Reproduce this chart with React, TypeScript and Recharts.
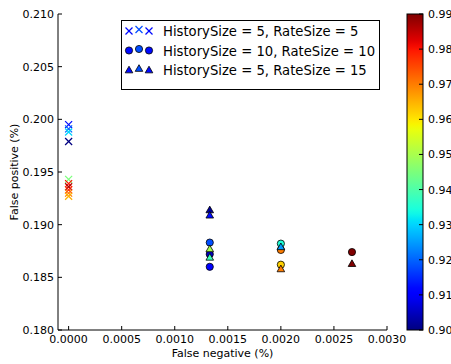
import React from 'react';
import { ScatterChart, Scatter, XAxis, YAxis } from 'recharts';

const xTicks = [0, 0.0005, 0.001, 0.0015, 0.002, 0.0025, 0.003];
const yTicks = [0.18, 0.185, 0.19, 0.195, 0.2, 0.205, 0.21];
const cbTicks = [0.9, 0.91, 0.92, 0.93, 0.94, 0.95, 0.96, 0.97, 0.98, 0.99];
const seriesNames = [
  'HistorySize = 5, RateSize = 5',
  'HistorySize = 10, RateSize = 10',
  'HistorySize = 5, RateSize = 15',
];

// Series 1: crosses
const s1FN = [0, 0, 0, 0, 0, 0, 0, 0, 0, 0];
const s1FP = [0.1995, 0.1991, 0.1988, 0.1979, 0.1943, 0.1939, 0.1936, 0.1933, 0.193, 0.1927];
const s1Score = [0.912, 0.92, 0.93, 0.9, 0.945, 0.98, 0.986, 0.978, 0.97, 0.965];

// Series 2: circles
const s2FN = [0.00133, 0.00133, 0.00133, 0.002, 0.002, 0.002, 0.00267];
const s2FP = [0.1883, 0.1872, 0.186, 0.1882, 0.1876, 0.1862, 0.1874];
const s2Score = [0.918, 0.905, 0.91, 0.935, 0.97, 0.962, 0.99];

// Series 3: triangles
const s3FN = [0.00133, 0.00133, 0.00133, 0.00133, 0.002, 0.002, 0.00267];
const s3FP = [0.1914, 0.1909, 0.1877, 0.1869, 0.1879, 0.1858, 0.1863];
const s3Score = [0.902, 0.912, 0.95, 0.938, 0.925, 0.97, 0.99];

const vmin = 0.9;
const vmax = 0.99;

const FONT = 'DejaVu Sans';

const jetR: [number, number][] = [[0, 0], [0.35, 0], [0.66, 1], [0.89, 1], [1, 0.5]];
const jetG: [number, number][] = [[0, 0], [0.125, 0], [0.375, 1], [0.64, 1], [0.91, 0], [1, 0]];
const jetB: [number, number][] = [[0, 0.5], [0.11, 1], [0.34, 1], [0.65, 0], [1, 0]];

function interp(pts: [number, number][], t: number) {
  for (let i = 0; i < pts.length - 1; i++) {
    const [x0, y0] = pts[i];
    const [x1, y1] = pts[i + 1];
    if (t >= x0 && t <= x1) {
      return y0 + ((t - x0) / (x1 - x0)) * (y1 - y0);
    }
  }
  return pts[pts.length - 1][1];
}

function jetT(t: number) {
  const tt = Math.min(1, Math.max(0, t));
  const r = Math.round(interp(jetR, tt) * 255);
  const g = Math.round(interp(jetG, tt) * 255);
  const b = Math.round(interp(jetB, tt) * 255);
  return `rgb(${r},${g},${b})`;
}

function jet(v: number) {
  return jetT((v - vmin) / (vmax - vmin));
}

function build(fn: number[], fp: number[], sc: number[]) {
  return fn.map((x, i) => ({ x, y: fp[i], c: sc[i] }));
}

const data1 = build(s1FN, s1FP, s1Score);
const data2 = build(s2FN, s2FP, s2Score);
const data3 = build(s3FN, s3FP, s3Score);

const CrossShape = (props: any) => {
  const { cx, cy, payload } = props;
  const col = jet(payload.c);
  const r = 3.5;
  return (
    <g>
      <line x1={cx - r} y1={cy - r} x2={cx + r} y2={cy + r} stroke={col} strokeWidth={1.2} />
      <line x1={cx - r} y1={cy + r} x2={cx + r} y2={cy - r} stroke={col} strokeWidth={1.2} />
    </g>
  );
};

const CircleShape = (props: any) => {
  const { cx, cy, payload } = props;
  return <circle cx={cx} cy={cy} r={3.6} fill={jet(payload.c)} stroke="#000" strokeWidth={0.8} />;
};

const TriShape = (props: any) => {
  const { cx, cy, payload } = props;
  const r = 3.8;
  const pts = `${cx},${cy - r} ${cx - r},${cy + r * 0.75} ${cx + r},${cy + r * 0.75}`;
  return <polygon points={pts} fill={jet(payload.c)} stroke="#000" strokeWidth={0.8} />;
};

const BottomTick = (props: any) => {
  const { x, y, payload } = props;
  return (
    <g>
      <line x1={x} y1={y} x2={x} y2={y - 4} stroke="#000" strokeWidth={1} />
      <text x={x} y={y + 13} textAnchor="middle" fontSize={11} fontFamily={FONT} fill="#000">
        {Number(payload.value).toFixed(4)}
      </text>
    </g>
  );
};

const TopTick = (props: any) => {
  const { x, y } = props;
  return <line x1={x} y1={y} x2={x} y2={y + 4} stroke="#000" strokeWidth={1} />;
};

const LeftTick = (props: any) => {
  const { x, y, payload } = props;
  return (
    <g>
      <line x1={x} y1={y} x2={x + 4} y2={y} stroke="#000" strokeWidth={1} />
      <text x={x - 4} y={y + 4} textAnchor="end" fontSize={11} fontFamily={FONT} fill="#000">
        {Number(payload.value).toFixed(3)}
      </text>
    </g>
  );
};

const RightTick = (props: any) => {
  const { x, y } = props;
  return <line x1={x} y1={y} x2={x - 4} y2={y} stroke="#000" strokeWidth={1} />;
};

const PL = 58;
const PR = 387;
const PT = 14;
const PB = 330;

const legendColors = [0.912, 0.918, 0.912];

function LegendMarker({ kind, x, y, c }: { kind: number; x: number; y: number; c: number }) {
  const col = jet(c);
  if (kind === 0) {
    const r = 3.5;
    return (
      <g>
        <line x1={x - r} y1={y - r} x2={x + r} y2={y + r} stroke={col} strokeWidth={1.2} />
        <line x1={x - r} y1={y + r} x2={x + r} y2={y - r} stroke={col} strokeWidth={1.2} />
      </g>
    );
  }
  if (kind === 1) return <circle cx={x} cy={y} r={3.6} fill={col} stroke="#000" strokeWidth={0.8} />;
  const r = 3.8;
  return (
    <polygon
      points={`${x},${y - r} ${x - r},${y + r * 0.75} ${x + r},${y + r * 0.75}`}
      fill={col}
      stroke="#000"
      strokeWidth={0.8}
    />
  );
}

export default function App() {
  const cbX = 407;
  const cbW = 16;
  const cbTop = PT;
  const cbBot = PB;
  const stops = Array.from({ length: 61 }, (_, i) => i / 60);
  const legendRowsY = [31, 50.5, 70];
  const markerX = [129, 139, 149];
  const markerDy = [0, -1.5, 0];

  return (
    <div style={{ position: 'absolute', left: 0, top: 0, width: 451, height: 364, background: '#fff' }}>
      <ScatterChart width={451} height={364} margin={{ top: PT, right: 451 - PR, bottom: 0, left: 0 }}>
        <XAxis
          xAxisId="b"
          type="number"
          dataKey="x"
          orientation="bottom"
          domain={[-0.0001, 0.003]}
          ticks={xTicks}
          interval={0}
          allowDataOverflow
          height={364 - PB}
          tickSize={0}
          tickMargin={0}
          tickLine={false}
          axisLine={{ stroke: '#000', strokeWidth: 1 }}
          tick={<BottomTick />}
          label={{
            value: 'False negative (%)',
            position: 'insideBottom',
            offset: 7,
            style: { fontSize: 11, fontFamily: FONT, fill: '#000' },
          }}
        />
        <XAxis
          xAxisId="t"
          type="number"
          dataKey="x"
          orientation="top"
          domain={[-0.0001, 0.003]}
          ticks={xTicks}
          interval={0}
          allowDataOverflow
          height={0}
          tickSize={0}
          tickMargin={0}
          tickLine={false}
          axisLine={{ stroke: '#000', strokeWidth: 1 }}
          tick={<TopTick />}
        />
        <YAxis
          yAxisId="l"
          type="number"
          dataKey="y"
          orientation="left"
          domain={[0.18, 0.21]}
          ticks={yTicks}
          interval={0}
          allowDataOverflow
          width={PL}
          tickSize={0}
          tickMargin={0}
          tickLine={false}
          axisLine={{ stroke: '#000', strokeWidth: 1 }}
          tick={<LeftTick />}
          label={{
            value: 'False positive (%)',
            angle: -90,
            position: 'insideLeft',
            offset: 14,
            style: { fontSize: 11, fontFamily: FONT, fill: '#000', textAnchor: 'middle' },
          }}
        />
        <YAxis
          yAxisId="r"
          type="number"
          dataKey="y"
          orientation="right"
          domain={[0.18, 0.21]}
          ticks={yTicks}
          interval={0}
          allowDataOverflow
          width={0}
          tickSize={0}
          tickMargin={0}
          tickLine={false}
          axisLine={{ stroke: '#000', strokeWidth: 1 }}
          tick={<RightTick />}
        />
        <Scatter name={seriesNames[0]} data={data1} xAxisId="b" yAxisId="l" shape={<CrossShape />} isAnimationActive={false} />
        <Scatter name={seriesNames[1]} data={data2} xAxisId="b" yAxisId="l" shape={<CircleShape />} isAnimationActive={false} />
        <Scatter name={seriesNames[2]} data={data3} xAxisId="b" yAxisId="l" shape={<TriShape />} isAnimationActive={false} />
      </ScatterChart>
      <svg
        width={451}
        height={364}
        style={{ position: 'absolute', left: 0, top: 0, pointerEvents: 'none' }}
      >
        <defs>
          <linearGradient id="jetgrad" x1="0" y1="1" x2="0" y2="0">
            {stops.map((t) => (
              <stop key={t} offset={t} stopColor={jetT(t)} />
            ))}
          </linearGradient>
        </defs>
        {/* Legend */}
        <rect x={121.5} y={20.5} width={258} height={69} fill="#fff" stroke="#000" strokeWidth={1} />
        {seriesNames.map((name, i) => (
          <g key={name}>
            {markerX.map((mx, j) => (
              <LegendMarker key={j} kind={i} x={mx} y={legendRowsY[i] + markerDy[j]} c={legendColors[j]} />
            ))}
            <text x={163} y={legendRowsY[i] + 5} fontSize={13.2} fontFamily={FONT} fill="#000">
              {name}
            </text>
          </g>
        ))}
        {/* Colorbar */}
        <rect x={cbX} y={cbTop} width={cbW} height={cbBot - cbTop} fill="url(#jetgrad)" stroke="#000" strokeWidth={1} />
        {cbTicks.map((v) => {
          const yy = cbBot - ((v - vmin) / (vmax - vmin)) * (cbBot - cbTop);
          return (
            <g key={v}>
              <line x1={cbX + cbW} y1={yy} x2={cbX + cbW - 4} y2={yy} stroke="#000" strokeWidth={1} />
              <text x={cbX + cbW + 5} y={yy + 4} fontSize={11} fontFamily={FONT} fill="#000">
                {v.toFixed(2)}
              </text>
            </g>
          );
        })}
      </svg>
    </div>
  );
}
